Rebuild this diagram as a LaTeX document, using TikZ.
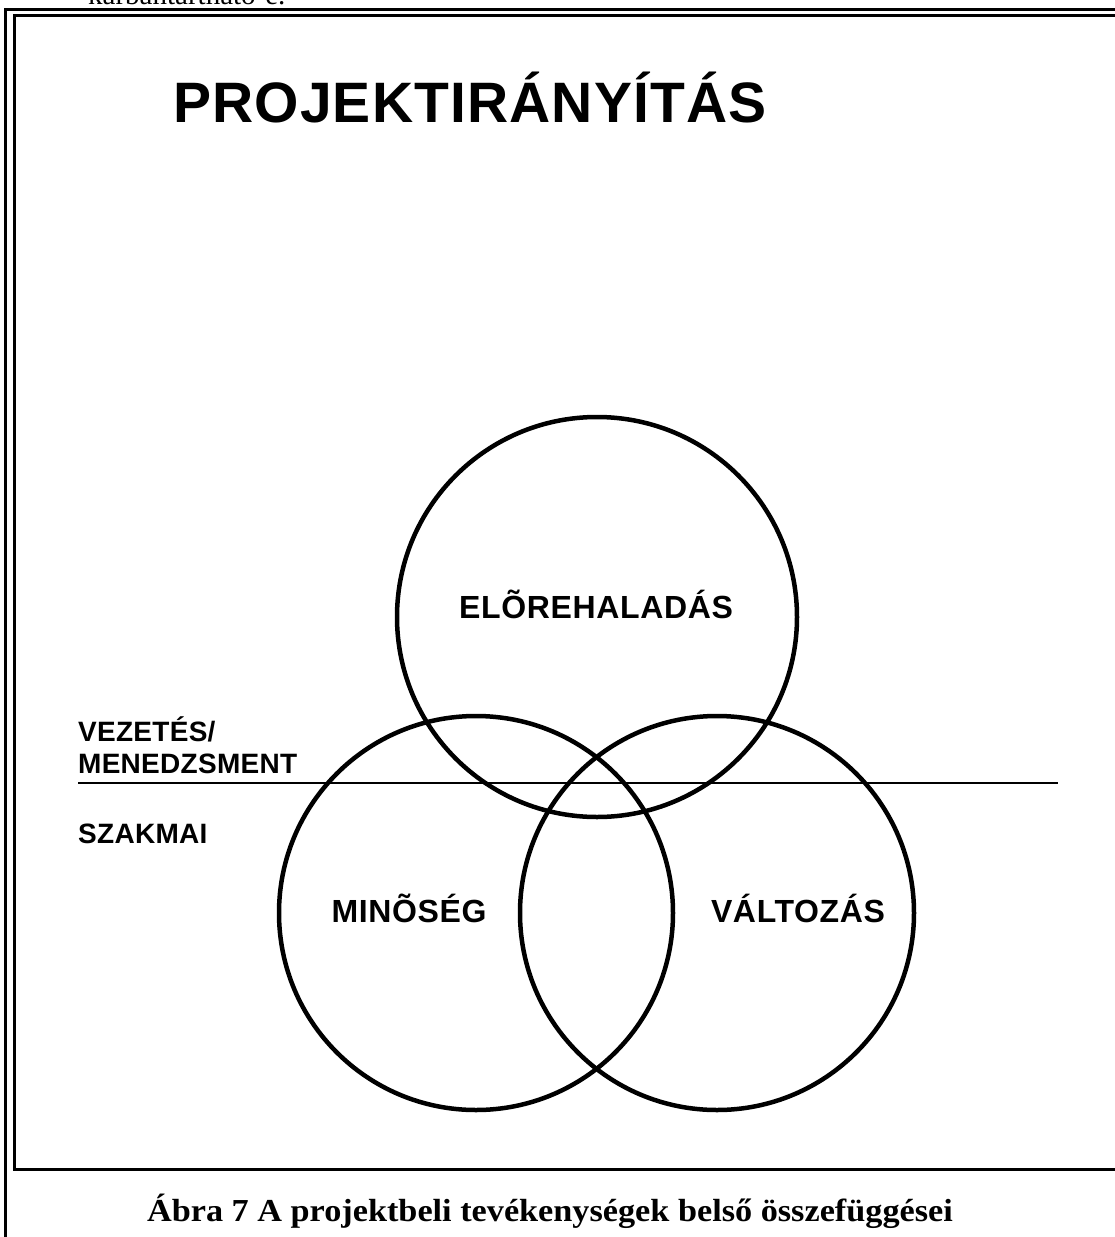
\documentclass[tikz,border=0pt]{standalone}
\usepackage{fontspec}
\usepackage{graphicx}
\setmainfont{Liberation Serif}
\newfontfamily\titlefont{Liberation Sans}[LetterSpace=2]
\newfontfamily\labelfont{Liberation Sans}[LetterSpace=2]
\newfontfamily\sidefont{Liberation Sans}[LetterSpace=1]
\tikzset{
  frame/.style={line width=3pt},
  ring/.style={draw, circle, line width=4.5pt, inner sep=0pt},
  lbl/.style={font=\labelfont\bfseries\fontsize{32}{36}\selectfont, inner sep=0pt},
  sidelbl/.style={font=\sidefont\bfseries\fontsize{28}{30}\selectfont, inner sep=0pt, anchor=base west},
}
\begin{document}
\begin{tikzpicture}[x=1pt, y=-1pt]
\useasboundingbox (0,0) rectangle (1115,1237);
% text running above the frame
\node[anchor=base west, inner sep=0pt, font=\fontsize{29}{32}\selectfont] (prev) at (88,4) {karbantartható-e.};
% double frame
\coordinate (o1) at (5,1237);
\coordinate (o2) at (5,9.5);
\coordinate (o3) at (1115,9.5);
\coordinate (i1) at (1115,1169);
\coordinate (i2) at (14,1169);
\coordinate (i3) at (14,15);
\coordinate (i4) at (1115,15);
\draw[frame] (o1) -- (o2) -- (o3);
\draw[frame] (i1) -- (i2) -- (i3) -- (i4);
% title
\node[anchor=base west, inner sep=0pt, font=\titlefont\bfseries\fontsize{57}{64}\selectfont] (title) at (173,122) {PROJEKTIRÁNYÍTÁS};
% dividing line
\coordinate (d1) at (78,783);
\coordinate (d2) at (1058,783);
\draw[line width=1.5pt] (d1) -- (d2);
% three circles
\node[ring, minimum size=400pt] (progress) at (597,617) {};
\node[ring, minimum size=394pt] (quality) at (476,913) {};
\node[ring, minimum size=394pt] (change) at (717,913) {};
% circle labels
\node[lbl, anchor=base] (tprogress) at (596,618) {ELÕREHALADÁS};
\node[lbl, anchor=base] (tquality) at (409,922) {MINÕSÉG};
\node[lbl, anchor=base] (tchange) at (798,922) {VÁLTOZÁS};
% level labels
\node[sidelbl] (mgmt1) at (78,741) {VEZETÉS/};
\node[sidelbl] (mgmt2) at (78,773) {MENEDZSMENT};
\node[sidelbl] (prof) at (78,843) {SZAKMAI};
% caption
\node[anchor=base, inner sep=0pt, font=\bfseries\fontsize{32}{36}\selectfont] (caption) at (550,1221) {\scalebox{1.07}[1]{Ábra 7 A projektbeli tevékenységek belső összefüggései}};
\end{tikzpicture}
\end{document}
